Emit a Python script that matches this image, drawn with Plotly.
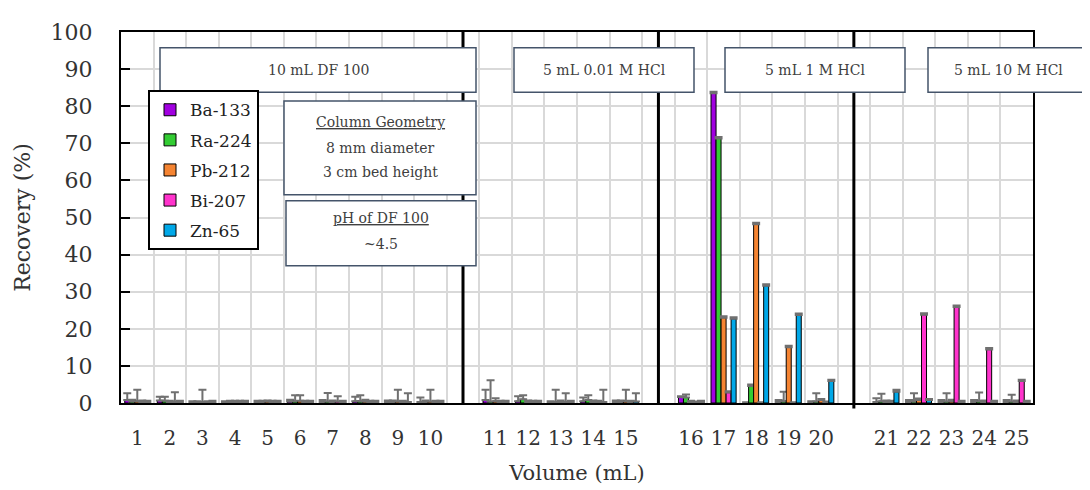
import plotly.graph_objects as go

# ---------------- data ----------------
categories = [str(i) for i in range(1, 26)]
# eluent group for each category (used to leave a gap slot between groups)
group_of_cat = [0]*10 + [1]*5 + [2]*5 + [3]*5

isotopes = ["Ba-133", "Ra-224", "Pb-212", "Bi-207", "Zn-65"]
colors = ["#A100E0", "#33CC33", "#F58432", "#FF33CC", "#00A8E8"]

ba133 = [0.8, 0.7, 0.2, 0.2, 0.3, 0.4, 0.3, 0.5, 0.3, 0.3,
         0.8, 0.5, 0.2, 0.5, 0.3,
         1.6, 83.5, 0.1, 0.3, 0.2,
         0.3, 0.3, 0.3, 0.3, 0.3]
ba133_err = [1.8, 1.0, 0.3, 0.3, 0.3, 0.5, 0.5, 1.2, 0.4, 1.2,
             2.8, 1.3, 0.3, 1.0, 0.4,
             0.2, 0.4, 0.1, 0.5, 0.3,
             1.0, 0.5, 0.5, 0.5, 0.5]
ra224 = [0.4, 0.6, 0.2, 0.3, 0.3, 0.5, 0.4, 0.5, 0.3, 0.3,
         0.4, 1.0, 0.3, 0.8, 0.3,
         1.5, 71.3, 4.6, 0.5, 0.4,
         0.5, 0.4, 0.4, 0.5, 0.4]
ra224_err = [0.5, 1.1, 0.3, 0.3, 0.3, 1.6, 2.3, 1.6, 0.4, 0.4,
             5.7, 1.1, 3.3, 1.3, 0.4,
             0.8, 0.4, 0.4, 2.5, 2.2,
             2.0, 2.2, 2.2, 2.3, 1.8]
pb212 = [0.5, 0.3, 0.3, 0.3, 0.4, 0.6, 0.3, 0.4, 0.4, 0.4,
         0.5, 0.3, 0.3, 0.3, 0.5,
         0.3, 23.0, 48.2, 15.0, 0.8,
         0.3, 0.8, 0.5, 0.3, 0.3]
pb212_err = [3.1, 0.3, 3.3, 0.3, 0.3, 1.5, 0.4, 0.5, 3.2, 3.2,
             0.8, 0.4, 0.4, 0.4, 3.1,
             0.3, 0.4, 0.4, 0.4, 0.3,
             0.4, 0.4, 0.4, 0.4, 0.4]
bi207 = [0.3, 0.3, 0.2, 0.3, 0.3, 0.3, 0.4, 0.3, 0.3, 0.3,
         0.3, 0.3, 0.3, 0.3, 0.3,
         0.2, 2.8, 0.1, 0.1, 0.2,
         0.3, 23.8, 25.9, 14.4, 5.9]
bi207_err = [0.4, 2.6, 0.3, 0.3, 0.3, 0.3, 1.4, 0.3, 0.3, 0.3,
             0.3, 0.3, 2.3, 0.3, 0.3,
             0.2, 0.4, 0.1, 0.1, 0.2,
             0.3, 0.4, 0.4, 0.4, 0.4]
zn65 = [0.3, 0.3, 0.3, 0.3, 0.3, 0.3, 0.3, 0.3, 0.3, 0.3,
        0.3, 0.3, 0.3, 0.3, 0.4,
        0.3, 22.7, 31.6, 23.7, 5.9,
        3.0, 0.8, 0.3, 0.3, 0.3]
zn65_err = [0.3, 0.3, 0.3, 0.3, 0.3, 0.3, 0.3, 0.3, 2.3, 0.3,
            0.3, 0.3, 0.3, 3.3, 2.2,
            0.3, 0.4, 0.4, 0.4, 0.4,
            0.6, 0.3, 0.3, 0.3, 0.3]

values = [ba133, ra224, pb212, bi207, zn65]
errors = [ba133_err, ra224_err, pb212_err, bi207_err, zn65_err]

group_labels = ["10 mL DF 100", "5 mL 0.01 M HCl", "5 mL 1 M HCl", "5 mL 10 M HCl"]

# ---------------- positions on the category axis ----------------
positions = [i + 1 + g for i, g in enumerate(group_of_cat)]
divider_positions = [positions[i] + 1 for i in range(len(positions) - 1)
                     if group_of_cat[i + 1] != group_of_cat[i]]

FONT = "DejaVu Serif"

fig = go.Figure()
for name, col, v, e in zip(isotopes, colors, values, errors):
    fig.add_trace(go.Bar(
        x=positions, y=v, name=name, legendgroup=name,
        marker=dict(color=col, line=dict(color="black", width=1)),
        error_y=dict(type="data", array=e, arrayminus=[0]*len(e), symmetric=False,
                     color="#707070", thickness=2, width=4),
    ))

# plot area in screenshot pixels (page has an 8px body offset)
OFF = 8
L, R, T, B = 121, 1033, 27, 403
W_PX, H_PX = R - L, B - T


def px_x(p):
    return (p - L) / W_PX


def px_y(p):
    return (B - p) / H_PX


shapes = []
for k, d in enumerate(divider_positions):
    shapes.append(dict(type="line", xref="x", yref="paper", x0=d, x1=d,
                       y0=(-0.015 if k == len(divider_positions) - 1 else 0), y1=1,
                       line=dict(color="black", width=3), layer="above"))

box_color = "#44546A"
boxes = [  # (x0, x1, y0, y1) in screenshot pixels
    (160, 476, 43, 88),
    (514, 694, 43, 88),
    (725, 905, 43, 88),
    (928, 1088, 43, 88),
    (284, 476, 97, 192),
    (286, 476, 198, 264),
]
for x0, x1, y0, y1 in boxes:
    shapes.append(dict(type="rect", xref="paper", yref="paper",
                       x0=px_x(x0), x1=px_x(x1), y0=px_y(y1), y1=px_y(y0),
                       line=dict(color=box_color, width=1.5), fillcolor="white",
                       layer="above"))

annotations = []
for lbl, (x0, x1, y0, y1) in zip(group_labels, boxes[:4]):
    annotations.append(dict(text=lbl, xref="paper", yref="paper",
                            x=px_x((x0 + x1) / 2), y=px_y((y0 + y1) / 2),
                            xanchor="center", yanchor="middle", showarrow=False,
                            font=dict(family=FONT, size=14, color="#404040")))

info_lines = [
    ("<u>Column Geometry</u>", 380, 118),
    ("8 mm diameter", 380, 145),
    ("3 cm bed height", 380, 169),
    ("<u>pH of DF 100</u>", 381, 216),
    ("~4.5", 381, 242),
]
for txt, x, y in info_lines:
    annotations.append(dict(text=txt, xref="paper", yref="paper",
                            x=px_x(x), y=px_y(y), xanchor="center", yanchor="middle",
                            showarrow=False,
                            font=dict(family=FONT, size=14, color="#404040")))

fig.update_layout(
    width=1090, height=490, autosize=False,
    margin=dict(l=L - OFF, r=1090 - (R - OFF), t=T - OFF, b=490 - (B - OFF)),
    paper_bgcolor="white", plot_bgcolor="white",
    barmode="group", bargap=0.23, bargroupgap=0,
    font=dict(family=FONT, color="#333333"),
    showlegend=True,
    legend=dict(x=px_x(148), y=px_y(86), xanchor="left", yanchor="top",
                bgcolor="white", bordercolor="black", borderwidth=2,
                font=dict(family=FONT, size=17, color="#222222"),
                tracegroupgap=5, itemwidth=30),
    shapes=shapes,
    annotations=annotations,
)

fig.update_xaxes(
    range=[0.5, max(positions) + 0.5],
    tickmode="array", tickvals=positions, ticktext=categories,
    showgrid=False, zeroline=False,
    minor=dict(tickmode="linear", tick0=0.5, dtick=1, showgrid=True,
               gridcolor="#D9D9D9", gridwidth=2, ticks=""),
    showline=True, linecolor="black", linewidth=2, mirror=True,
    ticks="", ticklabelstandoff=16,
    tickfont=dict(family=FONT, size=20, color="#333333"),
    title=dict(text="Volume (mL)", font=dict(family=FONT, size=21, color="#333333"),
               standoff=16),
)
fig.update_yaxes(
    range=[0, 100], dtick=10, tick0=0,
    showgrid=True, gridcolor="#D9D9D9", gridwidth=2, zeroline=False,
    showline=True, linecolor="black", linewidth=2, mirror=True,
    ticks="inside", ticklen=9, tickwidth=2, tickcolor="black",
    ticklabelstandoff=22,
    tickfont=dict(family=FONT, size=22, color="#333333"),
    title=dict(text="Recovery (%)", font=dict(family=FONT, size=22, color="#333333"),
               standoff=14),
)

fig.write_html("out.html")
